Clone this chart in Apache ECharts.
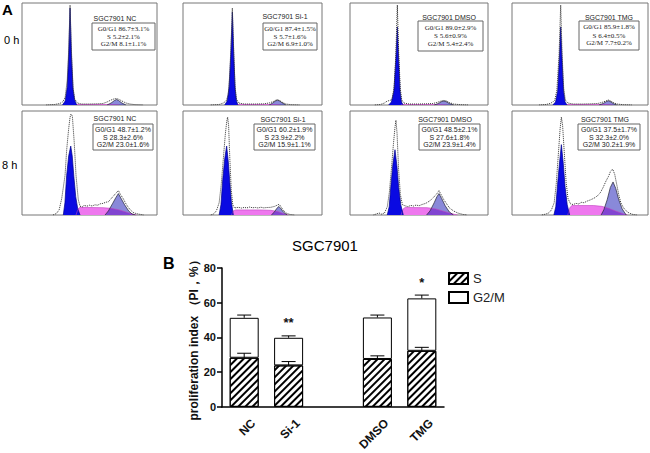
<!DOCTYPE html>
<html><head><meta charset="utf-8">
<script src="https://cdn.jsdelivr.net/npm/echarts@6/dist/echarts.min.js"></script>
<style>html,body{margin:0;padding:0;background:#fff}#c{width:650px;height:453px}</style>
</head><body><div id="c"></div>
<script>
// ---------- Panel A: flow-cytometry histograms ([DNA channel %, relative count %]) ----------
// 0 h
const t_nc_g1 = [[30,0],[32,4],[33.5,18],[34.6,50],[35.6,97],[36.6,50],[37.8,16],[39,5],[40.5,0]];
const t_nc_s = [[40,0],[41,0.5],[60,0.5],[66,0.4],[72,0]];
const t_nc_g2 = [[63,0],[66,2],[68.5,4.5],[70,5.5],[71.5,4.5],[74,2],[77,0]];
const t_nc_raw = [[18,0],[24,0.5],[28,1.5],[30,3],[31,5],[32,8],[33.5,25],[34.6,55],[35.6,100],[36.6,55],[37.8,18],[39,6],[41,2],[44,1],[50,1],[56,1.2],[60,1.5],[63,3],[66,5],[68,6],[70,6.5],[72,5.5],[74,4],[77,2],[80,1],[84,0.3],[90,0]];

const t_si_g1 = [[30,0],[31.8,4],[33.2,18],[34.4,50],[35.5,93],[36.5,50],[37.5,16],[38.5,4],[39.5,0]];
const t_si_s = [[39,0],[40,0.5],[60,0.5],[65,0.4],[70,0]];
const t_si_g2 = [[62,0],[64.5,2],[66.5,4],[68,4.8],[69.5,4],[71.5,2],[74,0]];
const t_si_raw = [[20,0],[26,0.5],[29,2],[31,4],[32.5,10],[33.5,28],[34.5,58],[35.5,97],[36.4,58],[37.4,20],[38.4,6],[40,2],[44,1],[52,1],[58,1.2],[62,2],[65,3.5],[67,5],[68,5.2],[69.5,4.5],[71,3],[74,1],[78,0.3],[84,0]];

const t_dm_g1 = [[28,0],[30,3],[31.8,14],[33.2,45],[34.3,78],[35.3,45],[36.3,14],[37.3,3],[38.5,0]];
const t_dm_s = [[37,0],[38,0.5],[58,0.5],[64,0.4],[70,0]];
const t_dm_g2 = [[61,0],[64,1.5],[66.5,3.5],[68,4],[69.5,3.5],[72,1.5],[75,0]];
const t_dm_raw = [[18,0],[22,0.5],[25,2],[27,4],[29,4.5],[30.5,6],[32,18],[33.2,50],[34.3,100],[35.3,52],[36.4,17],[37.5,5],[39,2],[43,1],[50,1],[56,1.2],[60,1.5],[63,2.5],[66,4],[68,4.5],[70,4],[72,2.5],[75,1],[80,0.3],[86,0]];

const t_tm_g1 = [[30,0],[32,3],[33.6,14],[34.8,45],[35.8,78],[36.8,45],[37.9,14],[39,3],[40.5,0]];
const t_tm_s = [[40,0],[41,0.5],[62,0.5],[68,0.4],[74,0]];
const t_tm_g2 = [[64,0],[67,1.5],[69.5,3.5],[70.8,4.2],[72.2,3.5],[74.5,1.5],[77,0]];
const t_tm_raw = [[20,0],[25,0.5],[28,1.5],[30,3],[31.5,5],[33,15],[34.6,50],[35.8,100],[36.8,52],[38,17],[39.2,5],[41,2],[45,1],[52,1],[58,1.2],[63,1.5],[66,2.5],[69,4],[70.8,5],[72.5,4],[74.5,2.5],[77,1],[82,0.3],[88,0]];

// 8 h
const b_nc_g1 = [[30.6,0],[31.8,12],[33.1,39],[34.6,58],[36.1,67.6],[37.2,58],[38.4,38],[39.8,18],[41.3,6],[43,0]];
const b_nc_s = [[40,0],[41.5,6],[43,7.5],[60,7.2],[66,6.5],[72,5],[78,2.5],[82,0.8],[85,0]];
const b_nc_g2 = [[61.5,0],[64,4],[67,11],[69.5,17],[71.4,21],[73.5,16],[76,10],[79,4],[81.5,1],[84,0]];
const b_nc_raw = [[23,0],[25.5,1.5],[27.5,5],[29.4,16],[31.9,39],[33.1,64],[34.6,85],[35.6,96],[36.3,99],[37.3,97],[38.7,71],[40,39],[41.7,15],[43,8.5],[45,8],[46,9.5],[48,8.6],[50,9.6],[52,8.8],[54,10],[56,9.6],[58,11],[60,11.4],[62,12.5],[64,13],[66,16],[68,19],[70,22],[71.4,24],[73,20],[75,16],[77,11],[79,7],[81,4],[83,2],[86,1],[90,0]];

const b_si_g1 = [[26,0],[27.3,10],[28.6,35],[30,55],[31.4,67.6],[32.6,52],[33.7,32],[34.8,13],[36.2,0]];
const b_si_s = [[35,0],[36,4],[38,5],[55,5],[63,4.6],[68,3.5],[71,2],[74,0.5],[76,0]];
const b_si_g2 = [[63.5,0],[65.5,2.5],[67.5,6.5],[69,8.4],[70.5,6],[72.5,2.5],[75,0]];
const b_si_raw = [[20,0],[22,1],[24,4],[26,12],[27.5,30],[29,55],[30.5,80],[31.5,92],[32.1,96],[32.8,88],[33.7,55],[34.7,25],[35.8,10],[37,7],[40,7.5],[42,6.8],[44,7.4],[46,7],[48,7.8],[50,7.1],[52,7.4],[54,6.9],[56,7.6],[58,7],[60,7.3],[63,7.5],[66,8.5],[68,9.8],[69.2,10.5],[70.5,8],[72,5],[74,2],[77,0.5],[80,0]];

const b_dm_g1 = [[27,0],[28.4,8],[29.7,30],[31.1,50],[32.6,64],[34,48],[35.3,27],[36.8,10],[38.6,0]];
const b_dm_s = [[37,0],[38.5,6],[40,7.4],[56,7.2],[62,6],[67,4],[72,2],[76,0.5],[78,0]];
const b_dm_g2 = [[55.5,0],[58,4],[61,12],[63,18],[64.5,21],[66.5,16],[69,9],[72,3],[75,0]];
const b_dm_raw = [[17,0],[19,1],[21,2],[23,0.8],[25,2],[27,8],[28.5,22],[30,45],[31.5,70],[32.6,86],[33.3,93],[34.1,80],[35.2,45],[36.5,20],[38,10],[40,9],[42,8.2],[44,9.4],[46,8.8],[48,9.8],[50,9],[52,10.2],[55,11.5],[58,14],[61,18],[63,21],[64.5,24],[66,20],[68,15],[70,11],[72,7],[75,4],[78,2],[82,0.5],[85,0]];

const b_tm_g1 = [[30.8,0],[32.2,8],[33.5,30],[35,52],[36.3,69],[37.6,52],[39,28],[40.6,10],[42.4,0]];
const b_tm_s = [[41,0],[42.5,7],[44,9.3],[60,9.3],[66,8.5],[71,6.5],[76,4],[80,2],[83,0.5],[85,0]];
const b_tm_g2 = [[65.5,0],[67.5,5],[70,15],[72.3,27],[74.3,32.4],[76.3,26],[78.5,15],[81,6],[84,0]];
const b_tm_raw = [[22,0],[25,1],[27,2],[29,5],[31,12],[32.5,30],[34,58],[35.4,85],[36.3,96],[37.2,88],[38.5,60],[39.8,32],[41.2,16],[43,11],[45,10.2],[47,11.4],[49,10.8],[51,12.4],[53,12],[55,13.5],[58,15],[61,17],[63,19],[65,22],[67,27],[69,33],[71,38],[72.5,43],[74,45],[75.5,40],[77,30],[78.5,20],[80,12],[82,7],[84,4],[86,2],[89,0.5],[92,0]];

const panelTitles = ['SGC7901 NC','SGC7901 Si-1','SGC7901 DMSO','SGC7901 TMG','SGC7901 NC','SGC7901 Si-1','SGC7901 DMSO','SGC7901 TMG'];
const panelStats = [
  ['G0/G1 86.7±3.1%','S 5.2±2.1%','G2/M 8.1±1.1%'],
  ['G0/G1 87.4±1.5%','S 5.7±1.6%','G2/M 6.9±1.0%'],
  ['G0/G1 89.0±2.9%','S 5.6±0.9%','G2/M 5.4±2.4%'],
  ['G0/G1 85.9±1.8%','S 6.4±0.5%','G2/M 7.7±0.2%'],
  ['G0/G1 48.7±1.2%','S 28.3±2.6%','G2/M 23.0±1.6%'],
  ['G0/G1 60.2±1.9%','S 23.9±2.2%','G2/M 15.9±1.1%'],
  ['G0/G1 48.5±2.1%','S 27.6±1.8%','G2/M 23.9±1.4%'],
  ['G0/G1 37.5±1.7%','S 32.3±2.0%','G2/M 30.2±1.9%']
];
const rowLabels = ['0 h','8 h'];

// ---------- Panel B: proliferation index ----------
const categories = ['NC','Si-1','','DMSO','TMG'];
const sPhase = [28.3, 23.9, null, 27.6, 32.3];
const g2mPhase = [23.0, 15.9, null, 23.9, 30.2];
const sErr = [2.6, 2.2, null, 1.8, 2.0];
const totalErr = [1.6, 1.1, null, 1.4, 1.9];
const marks = ['', '**', '', '', '*'];
const yTicks = [0, 20, 40, 60, 80];

// ---------- layout ----------
const panelSeries = [
  [t_nc_s,t_nc_g2,t_nc_g1,t_nc_raw],[t_si_s,t_si_g2,t_si_g1,t_si_raw],
  [t_dm_s,t_dm_g2,t_dm_g1,t_dm_raw],[t_tm_s,t_tm_g2,t_tm_g1,t_tm_raw],
  [b_nc_s,b_nc_g2,b_nc_g1,b_nc_raw],[b_si_s,b_si_g2,b_si_g1,b_si_raw],
  [b_dm_s,b_dm_g2,b_dm_g1,b_dm_raw],[b_tm_s,b_tm_g2,b_tm_g1,b_tm_raw]
];
const gridRects = [[22,3,135,102],[183,3,139,102],[350,3,138,102],[512,3,136,102],
                   [22,111,135,104],[183,111,139,104],[350,111,138,104],[512,111,136,104]];
const boxRects = [[92,23,63,27],[263,23,54,27],[418,21,65,30],[579,21,60,29],
                  [93,124,60,26],[254,124,61,26],[419,124,61,26],[578,124,62,26]];
const titlePos = [[115,18],[285,16],[449,17],[609,17],[115,118],[283,119],[445,119],[605,119]];

const grids = [], xAxes = [], yAxes = [], series = [], graphics = [];
gridRects.forEach((r, k) => {
  grids.push({left:r[0], top:r[1], width:r[2], height:r[3], show:true, borderColor:'#777', borderWidth:1, backgroundColor:'#fff'});
  xAxes.push({type:'value', gridIndex:k, min:0, max:100, show:false});
  yAxes.push({type:'value', gridIndex:k, min:0, max:102, show:false});
  const [s, g2, g1, raw] = panelSeries[k];
  const base = {type:'line', xAxisIndex:k, yAxisIndex:k, symbol:'none', silent:true, animation:false};
  series.push(Object.assign({}, base, {data:s, lineStyle:{width:0.6, color:'#c040c0'}, areaStyle:{color:'#ee77ee', opacity:1}}));
  series.push(Object.assign({}, base, {data:g2, lineStyle:{width:0.7, color:'#223'}, areaStyle:{color:'rgba(20,20,180,0.5)', opacity:1}}));
  series.push(Object.assign({}, base, {data:g1, lineStyle:{width:0.7, color:'#00008a'}, areaStyle:{color:'#0a0ae2', opacity:1}}));
  series.push(Object.assign({}, base, {data:raw, lineStyle:{width:1, color:'#333', type:'dotted'}}));
  const top = k < 4;
  const b = boxRects[k];
  graphics.push({type:'rect', shape:{x:b[0], y:b[1], width:b[2], height:b[3]}, style:{fill:'#fff', stroke:'#666', lineWidth:1}, z:10});
  [0.22, 0.5, 0.77].forEach((f, j) => {
    graphics.push({type:'text', x:b[0]+b[2]/2, y:b[1]+b[3]*f, z:11,
      style:{text:panelStats[k][j], fill:'#222', align:'center', verticalAlign:'middle',
             font: top ? '7px "Liberation Serif"' : '7px "Liberation Sans"'}});
  });
  graphics.push({type:'text', x:titlePos[k][0], y:titlePos[k][1], z:11,
    style:{text:panelTitles[k], fill:'#222', align:'center', verticalAlign:'middle', font:'7px "Liberation Sans"'}});
});

graphics.push({type:'text', x:2, y:9, style:{text:'A', font:'bold 15px "Liberation Sans"', fill:'#000', verticalAlign:'middle'}});
graphics.push({type:'text', x:4, y:40, style:{text:rowLabels[0], font:'11px "Liberation Sans"', fill:'#000', verticalAlign:'middle'}});
graphics.push({type:'text', x:2, y:165, style:{text:rowLabels[1], font:'11px "Liberation Sans"', fill:'#000', verticalAlign:'middle'}});
graphics.push({type:'text', x:163, y:263, style:{text:'B', font:'bold 16px "Liberation Sans"', fill:'#000', verticalAlign:'middle'}});
graphics.push({type:'text', x:325, y:245, style:{text:'SGC7901', font:'15px "Liberation Sans"', fill:'#000', align:'center', verticalAlign:'middle'}});

// bar chart grid
const G = 8;
grids.push({left:222, top:268, width:222, height:145});
xAxes.push({type:'category', gridIndex:G, data:categories,
  axisLine:{lineStyle:{color:'#000', width:1.5}},
  axisTick:{alignWithLabel:true, length:5, lineStyle:{color:'#000', width:1.5}},
  axisLabel:{rotate:45, margin:15, verticalAlign:'top', padding:[0,-7,0,0],
    fontSize:12, fontWeight:'bold', color:'#111', fontFamily:'Liberation Sans'}});
yAxes.push({type:'value', gridIndex:G, min:yTicks[0], max:yTicks[yTicks.length-1], interval:20,
  name:'proliferation index （PI，%）', nameLocation:'middle', nameGap:21,
  nameTextStyle:{fontSize:12, fontWeight:'bold', color:'#111', fontFamily:'Liberation Sans'},
  axisLine:{show:true, lineStyle:{color:'#000', width:1.5}},
  axisTick:{show:true, length:5, lineStyle:{color:'#000', width:1.5}},
  splitLine:{show:false},
  axisLabel:{fontSize:11, fontWeight:'bold', color:'#111', margin:6, fontFamily:'Liberation Sans'}});

series.push({name:'S', type:'bar', stack:'pi', xAxisIndex:G, yAxisIndex:G, data:sPhase, barWidth:29,
  itemStyle:{color:'#fff', borderColor:'#000', borderWidth:1,
    decal:{symbol:'rect', symbolSize:1, color:'#000', dashArrayX:[1,0], dashArrayY:[2,3], rotation:-Math.PI/4}}});
series.push({name:'G2/M', type:'bar', stack:'pi', xAxisIndex:G, yAxisIndex:G, data:g2mPhase, barWidth:29,
  itemStyle:{color:'#fff', borderColor:'#000', borderWidth:1},
  label:{show:true, position:'top', distance:9, fontSize:13, fontWeight:'bold', color:'#111',
    formatter:p => marks[p.dataIndex]}});

function errRender(params, api) {
  const i = api.value(0), v = api.value(1), e = api.value(2);
  const p0 = api.coord([i, v]), p1 = api.coord([i, v + e]);
  const hw = 7;
  return {type:'group', children:[
    {type:'line', shape:{x1:p0[0], y1:p0[1], x2:p1[0], y2:p1[1]}, style:{stroke:'#000', lineWidth:1}},
    {type:'line', shape:{x1:p1[0]-hw, y1:p1[1], x2:p1[0]+hw, y2:p1[1]}, style:{stroke:'#000', lineWidth:1}}
  ]};
}
const sErrData = [], totErrData = [];
categories.forEach((c, i) => {
  if (sPhase[i] == null) return;
  sErrData.push([i, sPhase[i], sErr[i]]);
  totErrData.push([i, sPhase[i] + g2mPhase[i], totalErr[i]]);
});
series.push({type:'custom', xAxisIndex:G, yAxisIndex:G, renderItem:errRender, data:sErrData, encode:{x:0, y:1}, z:5, silent:true});
series.push({type:'custom', xAxisIndex:G, yAxisIndex:G, renderItem:errRender, data:totErrData, encode:{x:0, y:1}, z:5, silent:true});

const chart = echarts.init(document.getElementById('c'), null, {renderer:'svg'});
chart.setOption({
  animation:false,
  backgroundColor:'#fff',
  textStyle:{fontFamily:'Liberation Sans'},
  grid:grids, xAxis:xAxes, yAxis:yAxes, series:series,
  legend:{data:['S','G2/M'], orient:'vertical', left:448, top:272, padding:0, itemWidth:19, itemHeight:11, itemGap:6,
    icon:'rect', textStyle:{fontSize:13, color:'#222'}, selectedMode:false},
  graphic:graphics
});
</script></body></html>
